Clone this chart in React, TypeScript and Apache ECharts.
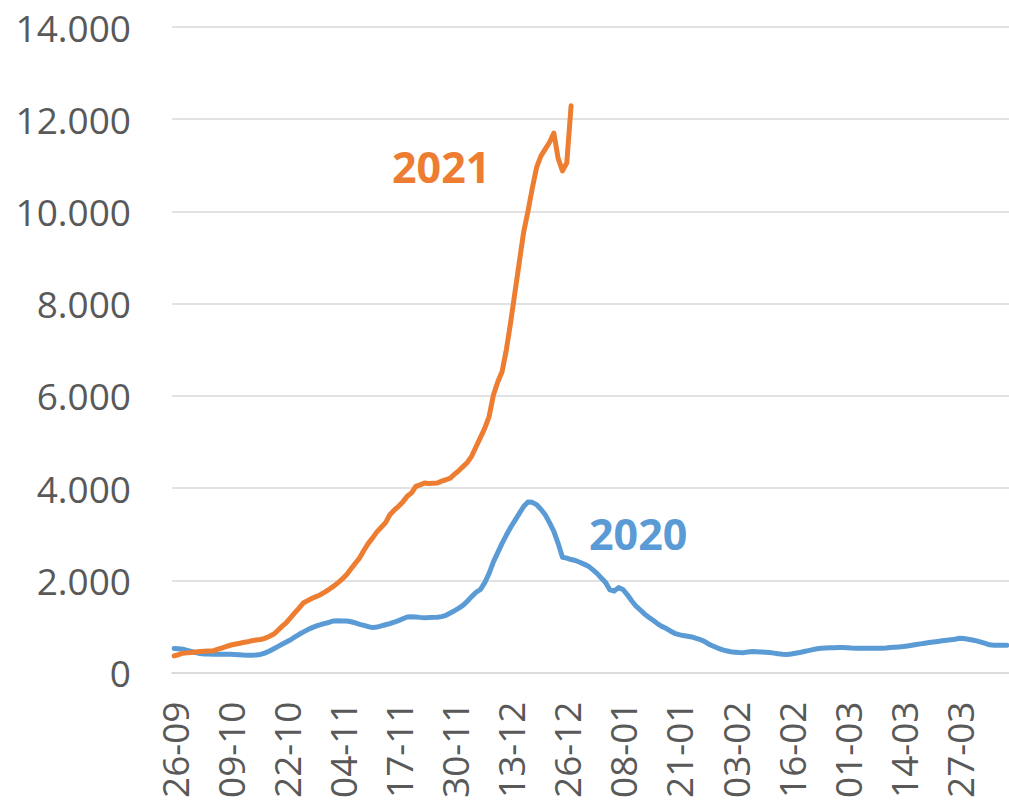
import React, { useEffect, useRef } from "react";
import * as echarts from "echarts";

// Dates from 26-09 on, one per day (194 days)
const startDate = { year: 2020, month: 9, day: 26 };
const dayCount = 194;
const categories: string[] = [];
{
  const d = new Date(Date.UTC(startDate.year, startDate.month - 1, startDate.day));
  for (let i = 0; i < dayCount; i++) {
    const dd = String(d.getUTCDate()).padStart(2, "0");
    const mm = String(d.getUTCMonth() + 1).padStart(2, "0");
    categories.push(`${dd}-${mm}`);
    d.setUTCDate(d.getUTCDate() + 1);
  }
}

const yTicks = [0, 2000, 4000, 6000, 8000, 10000, 12000, 14000];

const series2020: number[] = [
  520, 515, 505, 480, 455, 430, 410, 400, 398, 396,
  396, 397, 396, 395, 392, 385, 378, 375, 376, 380,
  392, 420, 460, 510, 560, 612, 660, 710, 770, 828,
  880, 930, 973, 1010, 1040, 1066, 1090, 1117, 1120, 1118,
  1117, 1100, 1075, 1045, 1020, 995, 973, 985, 1010, 1035,
  1059, 1090, 1125, 1165, 1203, 1210, 1205, 1195, 1189, 1190,
  1195, 1200, 1211, 1240, 1290, 1340, 1395, 1460, 1550, 1650,
  1740, 1801, 1950, 2150, 2400, 2600, 2800, 2980, 3150, 3300,
  3450, 3600, 3697, 3690, 3640, 3540, 3420, 3250, 3060, 2800,
  2500, 2480, 2450, 2428, 2390, 2350, 2306, 2230, 2150, 2050,
  1950, 1790, 1766, 1840, 1800, 1690, 1560, 1442, 1360, 1270,
  1200, 1130, 1060, 1000, 958, 900, 850, 820, 800, 785,
  771, 740, 710, 670, 610, 570, 530, 497, 470, 450,
  440, 432, 430, 445, 454, 450, 445, 440, 432, 420,
  405, 396, 390, 400, 415, 432, 455, 475, 495, 515,
  526, 530, 535, 538, 540, 540, 538, 530, 526, 525,
  525, 526, 526, 525, 528, 532, 540, 548, 555, 562,
  575, 590, 605, 620, 634, 648, 660, 672, 686, 699,
  710, 720, 742, 735, 720, 705, 685, 660, 630, 600,
  591, 590, 592, 591,
];

const series2021: number[] = [
  360, 385, 418, 425, 435, 445, 454, 460, 465, 468,
  500, 530, 562, 590, 612, 630, 649, 665, 690, 705,
  715, 740, 780, 828, 910, 1000, 1081, 1190, 1297, 1400,
  1513, 1560, 1610, 1650, 1693, 1750, 1810, 1874, 1950, 2030,
  2125, 2250, 2370, 2486, 2650, 2800, 2919, 3050, 3150, 3250,
  3422, 3520, 3604, 3700, 3820, 3892, 4036, 4070, 4108, 4100,
  4105, 4108, 4150, 4180, 4216, 4300, 4380, 4469, 4560, 4700,
  4901, 5100, 5300, 5550, 6017, 6300, 6523, 7000, 7600, 8252,
  8900, 9550, 10000, 10500, 10955, 11200, 11350, 11500, 11700, 11150,
  10880, 11050, 12290,
];

const seriesNames = ["2020", "2021"];
const colors = ["#5B9BD5", "#ED7D31"];

function fmt(v: number): string {
  if (v === 0) return "0";
  const s = String(Math.round(v));
  return s.replace(/\B(?=(\d{3})+(?!\d))/g, ".");
}

export default function App() {
  const ref = useRef<HTMLDivElement>(null);
  useEffect(() => {
    if (!ref.current) return;
    const chart = echarts.init(ref.current, undefined, { renderer: "svg" });
    const font = "'Open Sans', 'Liberation Sans', sans-serif";
    chart.setOption({
      animation: false,
      backgroundColor: "#ffffff",
      textStyle: { fontFamily: font },
      grid: { left: 172, right: 0, top: 27, bottom: 126, containLabel: false },
      xAxis: {
        type: "category",
        data: categories,
        boundaryGap: true,
        axisLine: { show: true, lineStyle: { color: "#D9D9D9", width: 1.5 } },
        axisTick: { show: false },
        axisLabel: {
          interval: 12,
          rotate: 90,
          margin: 29,
          color: "#595959",
          fontSize: 37,
          fontFamily: font,
        },
        splitLine: { show: false },
      },
      yAxis: {
        type: "value",
        min: yTicks[0],
        max: yTicks[yTicks.length - 1],
        interval: 2000,
        axisLine: { show: false },
        axisTick: { show: false },
        axisLabel: {
          margin: 41,
          color: "#595959",
          fontSize: 37,
          fontFamily: font,
          formatter: (v: number) => fmt(v),
        },
        splitLine: { show: true, lineStyle: { color: "#D9D9D9", width: 1.5 } },
      },
      series: [
        {
          name: seriesNames[0],
          type: "line",
          data: series2020,
          showSymbol: false,
          symbol: "none",
          lineStyle: { color: colors[0], width: 5, cap: "round", join: "round" },
          itemStyle: { color: colors[0] },
        },
        {
          name: seriesNames[1],
          type: "line",
          data: series2021,
          showSymbol: false,
          symbol: "none",
          lineStyle: { color: colors[1], width: 5, cap: "round", join: "round" },
          itemStyle: { color: colors[1] },
        },
      ],
      graphic: [
        {
          type: "text",
          left: 392,
          top: 145,
          style: {
            text: seriesNames[1],
            fill: colors[1],
            font: `bold 43px ${font}`,
          },
        },
        {
          type: "text",
          left: 589,
          top: 512,
          style: {
            text: seriesNames[0],
            fill: colors[0],
            font: `bold 43px ${font}`,
          },
        },
      ],
    });
    return () => chart.dispose();
  }, []);
  return (
    <div
      ref={ref}
      style={{ position: "fixed", left: 0, top: 0, width: 1009, height: 801, background: "#fff" }}
    />
  );
}
